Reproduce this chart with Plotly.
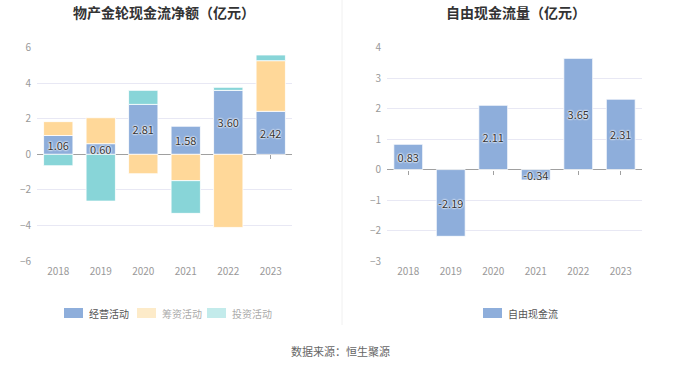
import plotly.graph_objects as go

years = ["2018", "2019", "2020", "2021", "2022", "2023"]
operating = [1.06, 0.60, 2.81, 1.58, 3.60, 2.42]
financing = [0.78, 1.46, -1.09, -1.48, -4.11, 2.85]
investing = [-0.64, -2.63, 0.79, -1.84, 0.17, 0.32]
free_cf = [0.83, -2.19, 2.11, -0.34, 3.65, 2.31]

left_names = ["经营活动", "筹资活动", "投资活动"]
right_names = ["自由现金流"]
title_left = "物产金轮现金流净额（亿元）"
title_right = "自由现金流量（亿元）"
source = "数据来源：恒生聚源"
left_range = [-6, 6]
right_range = [-3, 4]

FONT = "Noto Sans CJK SC"
C_OP = "#8eaedb"
C_FIN = "#ffd899"
C_INV = "#88d5d8"
W, H = 680, 367


def py(px):
    return 1 - px / H


def pxx(px):
    return px / W


lbl_font = dict(family=FONT, size=11, color="#333",
                shadow="0px 0px 2px #fff, 0px 0px 2px #fff, 0px 0px 2px #fff")
edge = dict(color="#fff", width=0.8)

fig = go.Figure()
fig.add_trace(go.Bar(x=years, y=operating, name=left_names[0],
                     marker=dict(color=C_OP, line=edge),
                     text=[f"{v:.2f}" for v in operating], textposition="inside", textangle=0,
                     insidetextanchor="middle", constraintext="none", textfont=lbl_font,
                     xaxis="x", yaxis="y", width=0.69, showlegend=False))
fig.add_trace(go.Bar(x=years, y=financing, name=left_names[1],
                     marker=dict(color=C_FIN, line=edge),
                     xaxis="x", yaxis="y", width=0.69, showlegend=False))
fig.add_trace(go.Bar(x=years, y=investing, name=left_names[2],
                     marker=dict(color=C_INV, line=edge),
                     xaxis="x", yaxis="y", width=0.69, showlegend=False))
fig.add_trace(go.Bar(x=years, y=free_cf, name=right_names[0],
                     marker=dict(color=C_OP, line=edge),
                     text=[f"{v:.2f}" for v in free_cf], textposition="inside", textangle=0,
                     insidetextanchor="middle", constraintext="none", textfont=lbl_font,
                     xaxis="x2", yaxis="y2", width=0.68, showlegend=False))

ydom = [py(261), py(47.7)]
tickfont = dict(family=FONT, size=10, color="#999")
ldom = [pxx(37), pxx(292)]
rdom = [pxx(387), pxx(642)]


def zero_pos(rng):
    return ydom[0] + (0 - rng[0]) / (rng[1] - rng[0]) * (ydom[1] - ydom[0])


fig.update_layout(
    width=W, height=H, margin=dict(l=0, r=0, t=0, b=0, autoexpand=False),
    paper_bgcolor="#fff", plot_bgcolor="#fff",
    barmode="relative",
    font=dict(family=FONT),
    showlegend=False,
    xaxis=dict(domain=ldom, anchor="y", type="category", showline=False, ticks="",
               tickfont=tickfont, automargin=False, ticklabelstandoff=3),
    yaxis=dict(domain=ydom, range=left_range, dtick=2, anchor="x", showgrid=True,
               gridcolor="#e8e8f4", gridwidth=1, zeroline=True, zerolinecolor="#a0a0a0",
               zerolinewidth=1, showline=False, ticks="", tickfont=tickfont, automargin=False,
               ticklabelstandoff=5),
    xaxis2=dict(domain=rdom, anchor="y2", type="category", showline=False, ticks="",
                tickfont=tickfont, automargin=False, ticklabelstandoff=3),
    yaxis2=dict(domain=ydom, range=right_range, dtick=1, anchor="x2", showgrid=True,
                gridcolor="#e8e8f4", gridwidth=1, zeroline=True, zerolinecolor="#a0a0a0",
                zerolinewidth=1, showline=False, ticks="", tickfont=tickfont, automargin=False,
                ticklabelstandoff=5),
    xaxis3=dict(domain=ldom, anchor="free", position=zero_pos(left_range), overlaying="x",
                matches="x", type="category", showticklabels=False, ticks="outside",
                ticklen=4, tickcolor="#a0a0a0", showgrid=False, showline=False,
                zeroline=False, layer="below traces", automargin=False),
    xaxis4=dict(domain=rdom, anchor="free", position=zero_pos(right_range), overlaying="x2",
                matches="x2", type="category", showticklabels=False, ticks="outside",
                ticklen=4, tickcolor="#a0a0a0", showgrid=False, showline=False,
                zeroline=False, layer="below traces", automargin=False),
)

# invisible traces to activate the tick-only axes
fig.add_trace(go.Scatter(x=years, y=operating, xaxis="x3", yaxis="y", mode="markers",
                         marker=dict(opacity=0), hoverinfo="skip", showlegend=False))
fig.add_trace(go.Scatter(x=years, y=free_cf, xaxis="x4", yaxis="y2", mode="markers",
                         marker=dict(opacity=0), hoverinfo="skip", showlegend=False))

fig.add_annotation(text=f"<b>{title_left}</b>", x=pxx(164), y=py(12), xref="paper", yref="paper",
                   xanchor="center", yanchor="middle", showarrow=False,
                   font=dict(family=FONT, size=14, color="#333"))
fig.add_annotation(text=f"<b>{title_right}</b>", x=pxx(516), y=py(12), xref="paper", yref="paper",
                   xanchor="center", yanchor="middle", showarrow=False,
                   font=dict(family=FONT, size=14, color="#333"))
fig.add_annotation(text=source, x=0.5, y=py(351), xref="paper", yref="paper",
                   xanchor="center", yanchor="middle", showarrow=False,
                   font=dict(family=FONT, size=11, color="#666"))
fig.add_shape(type="line", x0=pxx(342), x1=pxx(342), y0=py(0), y1=py(325),
              xref="paper", yref="paper", line=dict(color="#f0f0f0", width=1))

# custom legends
legend_items = [
    (left_names[0], "#8eaedb", "#555", 64),
    (left_names[1], "#fdebc9", "#aaa", 137),
    (left_names[2], "#c3ebeb", "#aaa", 207),
    (right_names[0], "#8eaedb", "#555", 483),
]
ly = 313
for name, sw, tc, x0 in legend_items:
    fig.add_shape(type="rect", x0=pxx(x0), x1=pxx(x0 + 19), y0=py(ly + 5), y1=py(ly - 5),
                  xref="paper", yref="paper", line=dict(width=0), fillcolor=sw)
    fig.add_annotation(text=name, x=pxx(x0 + 23), y=py(ly), xref="paper", yref="paper",
                       xanchor="left", yanchor="middle", showarrow=False,
                       font=dict(family=FONT, size=10, color=tc))

fig.write_html("out.html", config={"displayModeBar": False},
               post_script="document.body.style.margin='0';")
